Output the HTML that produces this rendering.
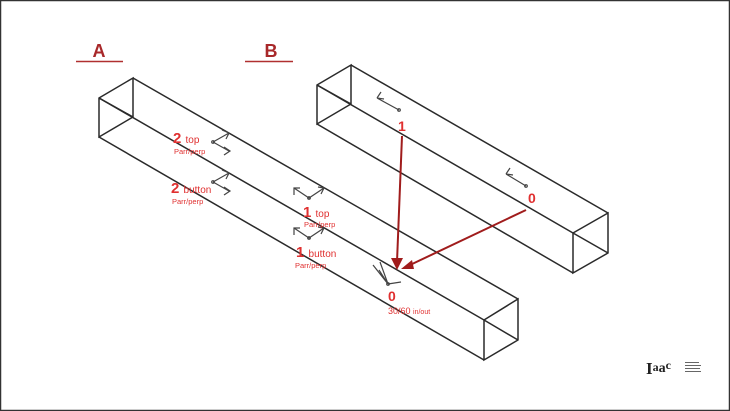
<!DOCTYPE html>
<html><head><meta charset="utf-8"><style>
html,body{margin:0;padding:0;background:#fff}
svg{display:block}
text{font-family:"Liberation Sans",sans-serif}
</style></head><body>
<svg width="730" height="411" viewBox="0 0 730 411" xmlns="http://www.w3.org/2000/svg">
<rect x="0.5" y="0.5" width="729" height="410" fill="#fff" stroke="#333" stroke-width="1.5"/>
<text x="99" y="57" font-size="18" font-weight="bold" fill="#a8282a" text-anchor="middle">A</text>
<line x1="76" y1="61.5" x2="123" y2="61.5" stroke="#b03030" stroke-width="1.5"/>
<text x="271" y="57" font-size="18" font-weight="bold" fill="#a8282a" text-anchor="middle">B</text>
<line x1="245" y1="61.5" x2="293" y2="61.5" stroke="#b03030" stroke-width="1.5"/>
<g stroke="#2a2a2a" stroke-width="1.5" fill="none">
<path d="M99,98 L133,78 L133,117 L99,137 Z M99,98 L133,117"/>
<path d="M133,78 L518,299 M99,98 L484,320 M99,137 L484,360"/>
<path d="M484,320 L518,299 L518,340 L484,360 Z M484,320 L518,340"/>
<path d="M317,85 L351,65 L351,104 L317,124 Z M317,85 L351,104"/>
<path d="M351,65 L608,213 M317,85 L573,233 M317,124 L573,273"/>
<path d="M573,233 L608,213 L608,253 L573,273 Z M573,233 L608,253"/>
</g>
<g stroke="#444" stroke-width="1.2" fill="none">
<path d="M213,142 L229,133 M222,130 L229,133 L226,139 M213,142 L229,151 M224,155 L230,151 L224,147"/>
<circle cx="213" cy="142" r="1.3"/>
<path d="M213,182 L229,173 M222,170 L229,173 L226,179 M213,182 L229,191 M224,195 L230,191 L224,187"/>
<circle cx="213" cy="182" r="1.3"/>
<path d="M294,195 L294,188 L300,188 M294,188 L309,198 L324,188 M318,187 L324,188 L321,194"/><circle cx="309" cy="198" r="1.3"/>
<path d="M294,235 L294,228 L300,228 M294,228 L309,238 L324,228 M318,227 L324,228 L321,234"/><circle cx="309" cy="238" r="1.3"/>
<path d="M399,110 L377,98 M377,98 L381,92 M377,98 L384,99"/><circle cx="399" cy="110" r="1.3"/>
<path d="M526,186 L506,174 M506,174 L510,168 M506,174 L513,175"/><circle cx="526" cy="186" r="1.3"/>
<path d="M388,284 L373,265 M388,284 L380,262 M388,284 L401,282 M388,284 L379,270"/><circle cx="388" cy="284" r="1.3"/>
</g>
<g stroke="#a01c1c" stroke-width="2" fill="#a01c1c">
<line x1="402" y1="136" x2="397" y2="262"/>
<polygon points="391,258 403,258 397,270" stroke="none"/>
<line x1="526" y1="210" x2="410" y2="265"/>
<polygon points="401,269 412,260 414,269" stroke="none"/>
</g>
<g fill="#e03030">
<text x="173" y="143" font-size="15" font-weight="bold">2 <tspan font-size="10" font-weight="normal">top</tspan></text>
<text x="174" y="154" font-size="7.5">Parr/perp</text>
<text x="171" y="193" font-size="15" font-weight="bold">2 <tspan font-size="10" font-weight="normal">button</tspan></text>
<text x="172" y="204" font-size="7.5">Parr/perp</text>
<text x="303" y="217" font-size="15" font-weight="bold">1 <tspan font-size="10" font-weight="normal">top</tspan></text>
<text x="304" y="227" font-size="7.5">Parr/perp</text>
<text x="296" y="257" font-size="15" font-weight="bold">1 <tspan font-size="10" font-weight="normal">button</tspan></text>
<text x="295" y="268" font-size="7.5">Parr/perp</text>
<text x="398" y="131" font-size="14" font-weight="bold">1</text>
<text x="528" y="203" font-size="14" font-weight="bold">0</text>
<text x="388" y="301" font-size="14" font-weight="bold">0</text>
<text x="388" y="314" font-size="9">30/60 <tspan font-size="7">in/out</tspan></text>
</g>
<text x="646" y="374" font-size="17" font-weight="bold" style="font-family:'Liberation Serif',serif" fill="#222">I<tspan font-size="12" dy="-3">a</tspan><tspan font-size="14" dy="1">a</tspan><tspan font-size="12" dy="-3">c</tspan></text>
<g fill="#666"><rect x="685" y="362" width="14" height="1"/><rect x="685" y="365" width="16" height="1"/><rect x="685" y="368" width="15" height="1"/><rect x="685" y="371" width="16" height="1"/></g>
</svg>
</body></html>
